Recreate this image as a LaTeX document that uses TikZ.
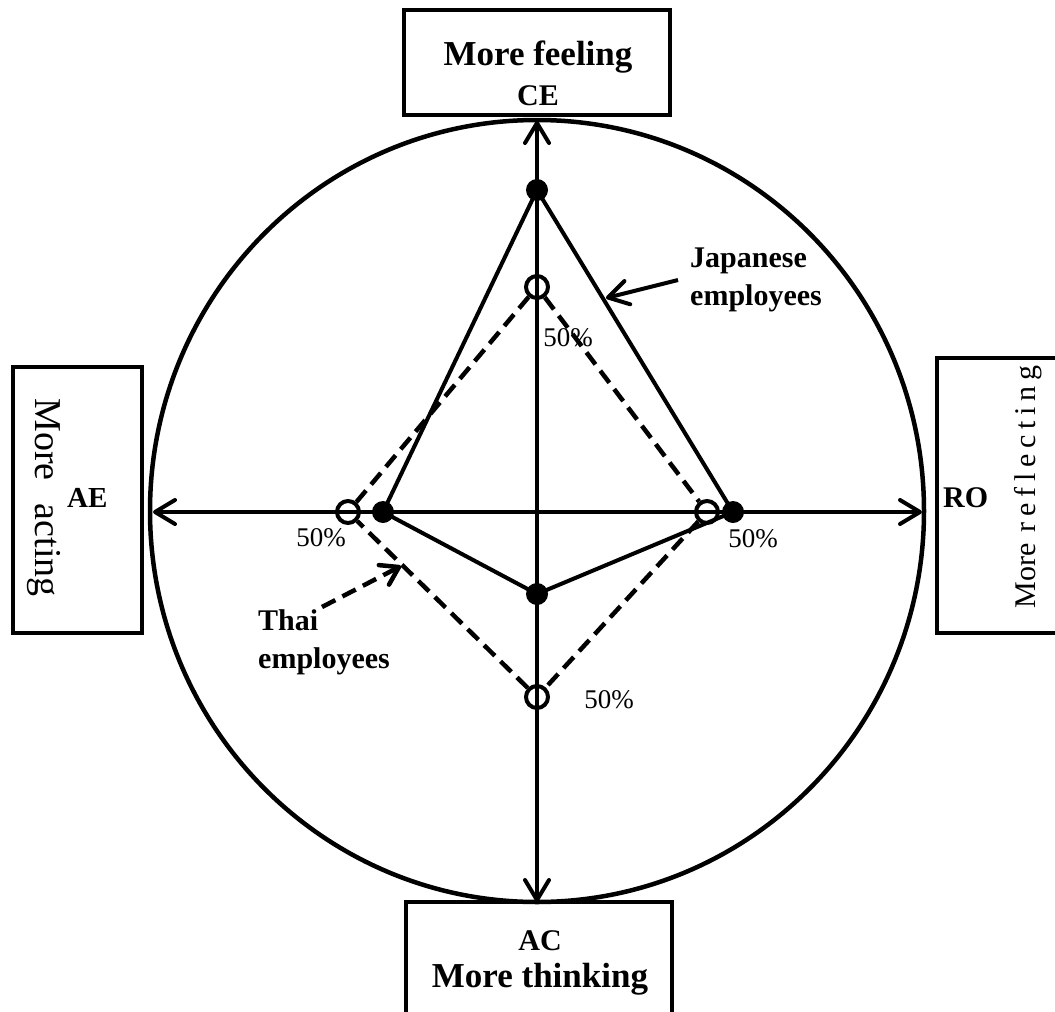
\documentclass[tikz,border=0pt]{standalone}
\usepackage{fontspec}
\setmainfont{Liberation Serif}
\newfontfamily\spacedfont[LetterSpace=19]{Liberation Serif}
\usetikzlibrary{arrows.meta}
\begin{document}
\begin{tikzpicture}[x=1pt,y=-1pt,
  tipb/.tip={Straight Barb[length=20pt,width=24pt,round]},
  axis/.style={line width=4pt,tipb-tipb},
  ptr/.style={line width=4pt,-tipb},
  dptr/.style={line width=4.5pt,dash pattern=on 15pt off 8pt,-{Straight Barb[length=17pt,width=22pt,round]}},
  box/.style={draw,line width=3.5pt,inner sep=0pt},
  jdot/.style={circle,fill,inner sep=0pt,minimum size=22pt},
  tdot/.style={circle,draw,line width=4pt,inner sep=0pt,minimum size=22pt},
  solidpoly/.style={line width=4pt,line join=round},
  dashpoly/.style={line width=4.5pt,dash pattern=on 15pt off 8pt},
  pct/.style={inner sep=0pt,font=\fontsize{27}{32}\selectfont},
  blab/.style={inner sep=0pt,font=\fontsize{30}{36}\selectfont\bfseries},
  hlab/.style={inner sep=0pt,font=\fontsize{35}{40}\selectfont\bfseries}
]
\useasboundingbox (0,0) rectangle (1055,1012);

% circle
\draw[line width=4.5pt] (537,511) ellipse [x radius=387pt, y radius=391pt];

% boxes
\node[box,minimum width=266pt,minimum height=105pt] (ceBox) at (537,62.5) {};
\node[box,minimum width=266pt,minimum height=128pt] (acBox) at (539,966) {};
\node[box,minimum width=129pt,minimum height=266pt] (aeBox) at (77.5,500) {};
\node[box,minimum width=126pt,minimum height=275pt] (roBox) at (1000,495.5) {};

% box texts
\node[hlab,anchor=base] (ceT1) at (538,65) {More feeling};
\node[blab,anchor=base] (ceT2) at (538,105) {CE};
\node[blab,anchor=base] (acT1) at (540,950) {AC};
\node[hlab,anchor=base] (acT2) at (540,987) {More thinking};
\node[inner sep=0pt,rotate=-90,font=\fontsize{38}{44}\selectfont] (aeT1) at (44,497.5) {More\hspace{23pt}acting};
\node[blab,anchor=base west,font=\fontsize{29}{34}\selectfont\bfseries] (aeT2) at (67,507) {AE};
\node[inner sep=0pt,rotate=90,font=\fontsize{30}{36}\selectfont] (roT1) at (1028,487) {More\hspace{11pt}{\spacedfont reflecting}};
\node[blab,anchor=base west] (roT2) at (943,507) {RO};

% axes
\coordinate (ctop) at (537,121);
\coordinate (cbot) at (537,902);
\coordinate (cleft) at (153,512);
\coordinate (cright) at (922,512);
\draw[axis] (ctop) -- (cbot);
\draw[axis] (cleft) -- (cright);

% points
\node[jdot] (j1) at (537,190) {};
\node[jdot] (j2) at (733,512) {};
\node[jdot] (j3) at (537,594) {};
\node[jdot] (j4) at (383,512) {};
\node[tdot] (t1) at (537,287) {};
\node[tdot] (t2) at (707,512) {};
\node[tdot] (t3) at (537,697) {};
\node[tdot] (t4) at (348,512) {};

\draw[solidpoly] (j1.center) -- (j2.center) -- (j3.center) -- (j4.center) -- cycle;
\draw[dashpoly] (t1) -- (t2);
\draw[dashpoly] (t2) -- (t3);
\draw[dashpoly] (t3) -- (t4);
\draw[dashpoly] (t4) -- (t1);

% percentages
\node[pct] (p1) at (568,338) {50\%};
\node[pct] (p2) at (321,538) {50\%};
\node[pct] (p3) at (753,539) {50\%};
\node[pct] (p4) at (609,700) {50\%};

% legends
\node[blab,anchor=base west] (jaL1) at (690,267) {Japanese};
\node[blab,anchor=base west] (jaL2) at (690,305) {employees};
\coordinate (jaTail) at (678,280);
\coordinate (jaTip) at (606,298);
\draw[ptr] (jaTail) -- (jaTip);

\node[blab,anchor=base west] (thL1) at (258,630) {Thai};
\node[blab,anchor=base west] (thL2) at (258,668) {employees};
\coordinate (thTail) at (322,607);
\coordinate (thTip) at (401,566);
\draw[dptr] (thTail) -- (thTip);
\end{tikzpicture}
\end{document}
